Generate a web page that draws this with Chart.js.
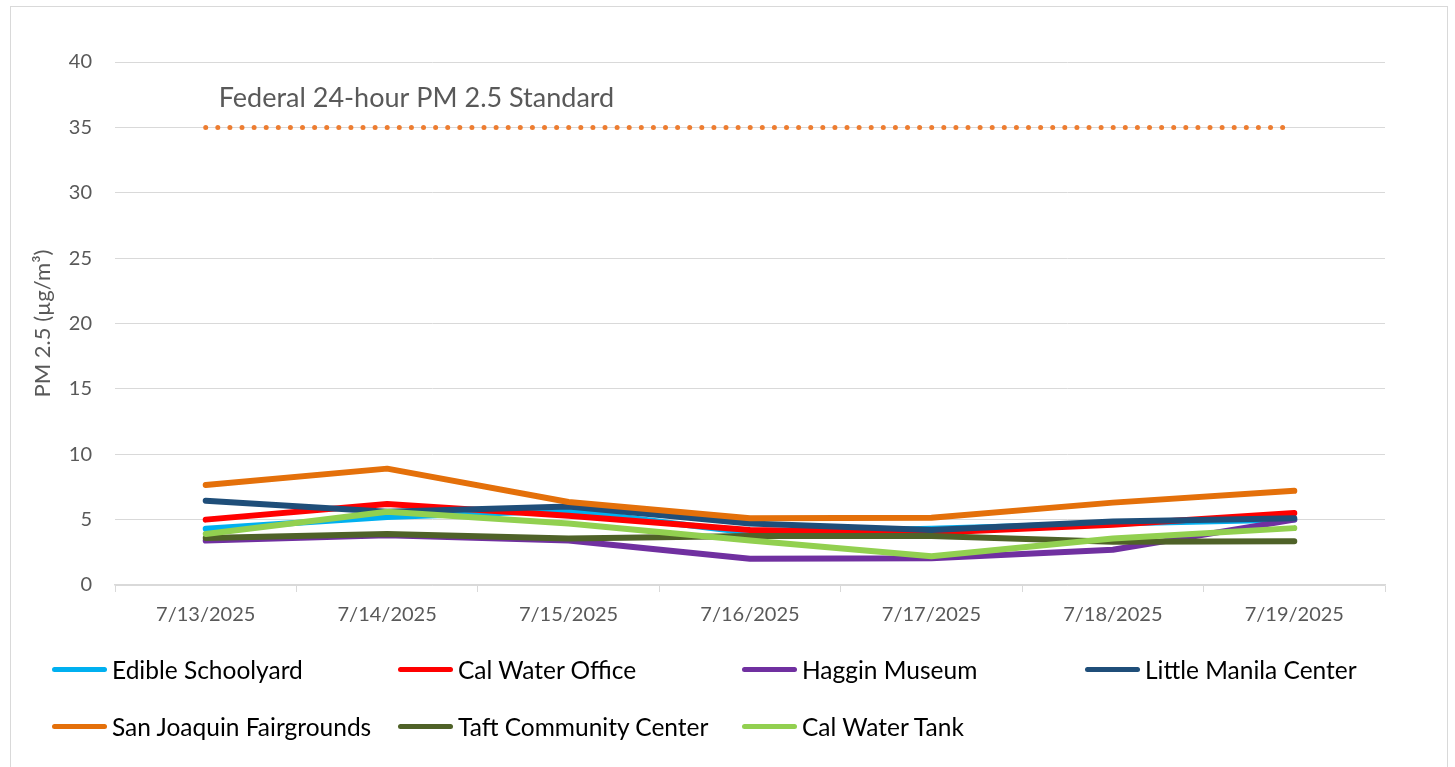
<!DOCTYPE html>
<html>
<head>
<meta charset="utf-8">
<script src="https://cdn.jsdelivr.net/npm/chart.js@4"></script>
<style>
  body { margin: 0; background: #fff; }
  #wrap { position: relative; width: 1455px; height: 767px; overflow: hidden; font-family: Lato, "Noto Sans", sans-serif; }
  #frame { position: absolute; left: 10px; top: 6px; width: 1436px; height: 800px; border: 1px solid #d9d9d9; }
  #myChart { position: absolute; left: 0; top: 0; }
  #legend { position: absolute; left: 52px; top: 657px; display: grid; grid-template-columns: 346px 344px 343px 340px; row-gap: 33px; }
  .item { display: flex; align-items: center; height: 24px; font-size: 24.5px; color: #000; white-space: nowrap; }
  .swatch { width: 55px; height: 5px; border-radius: 3px; margin-right: 5px; }
</style>
</head>
<body>
<div id="wrap">
  <div id="frame"></div>
  <canvas id="myChart" width="1455" height="767"></canvas>
  <div id="legend"></div>
</div>
<script>
const dates = ['7/13/2025', '7/14/2025', '7/15/2025', '7/16/2025', '7/17/2025', '7/18/2025', '7/19/2025'];
const yTicks = [0, 5, 10, 15, 20, 25, 30, 35, 40];

const edibleSchoolyard = [4.3, 5.2, 5.7, 4.0, 4.3, 4.7, 5.0];
const calWaterOffice = [5.0, 6.2, 5.3, 4.2, 4.0, 4.6, 5.5];
const hagginMuseum = [3.4, 3.8, 3.4, 2.0, 2.05, 2.7, 5.0];
const littleManila = [6.45, 5.6, 6.0, 4.7, 4.2, 4.85, 5.1];
const sanJoaquin = [7.65, 8.9, 6.35, 5.1, 5.15, 6.3, 7.2];
const taftCommunity = [3.6, 3.9, 3.55, 3.75, 3.75, 3.3, 3.35];
const calWaterTank = [3.9, 5.6, 4.7, 3.4, 2.2, 3.55, 4.35];
const federalStandard = [35, 35, 35, 35, 35, 35, 35];

const seriesNames = ['Edible Schoolyard', 'Cal Water Office', 'Haggin Museum', 'Little Manila Center',
  'San Joaquin Fairgrounds', 'Taft Community Center', 'Cal Water Tank'];
const seriesValues = [edibleSchoolyard, calWaterOffice, hagginMuseum, littleManila, sanJoaquin, taftCommunity, calWaterTank];
const seriesColors = ['#00B0F0', '#FF0000', '#7030A0', '#1F4E79', '#E4700A', '#4F6228', '#92D050'];

const datasets = seriesNames.map((name, i) => ({
  label: name,
  data: seriesValues[i],
  borderColor: seriesColors[i],
  backgroundColor: seriesColors[i],
  borderWidth: 6,
  borderCapStyle: 'round',
  borderJoinStyle: 'round',
  pointRadius: 0,
  tension: 0,
  order: 20 - i
}));

datasets.push({
  label: 'Federal 24-hour PM 2.5 Standard',
  data: federalStandard,
  borderColor: '#ED7D31',
  borderWidth: 5,
  borderDash: [0, 12.1],
  borderCapStyle: 'round',
  pointRadius: 0,
  order: 30
});

// label for the standard line, placed from the scales
const standardLabel = {
  id: 'standardLabel',
  afterDatasetsDraw(chart) {
    const { ctx, scales } = chart;
    const x = scales.x.getPixelForValue(0) + 13;
    const y = scales.y.getPixelForValue(35) - 29;
    ctx.save();
    ctx.font = '27px Lato, "Noto Sans", sans-serif';
    ctx.fillStyle = '#595959';
    ctx.textBaseline = 'middle';
    ctx.fillText('Federal 24-hour PM 2.5 Standard', x, y);
    ctx.restore();
  }
};

const ctx = document.getElementById('myChart');
const myChart = new Chart(ctx, {
  type: 'line',
  data: { labels: dates, datasets: datasets },
  plugins: [standardLabel],
  options: {
    responsive: false,
    animation: false,
    layout: { padding: { top: 62, right: 70, left: 0, bottom: 0 } },
    plugins: { legend: { display: false }, tooltip: { enabled: false } },
    scales: {
      x: {
        offset: true,
        grid: { offset: true, drawOnChartArea: false, drawTicks: true, tickLength: 7, color: '#d9d9d9' },
        border: { display: true, color: '#d9d9d9', width: 1.5 },
        ticks: { color: '#595959', font: { family: 'Lato', size: 20 }, padding: 11, maxRotation: 0 },
        afterFit(scale) { scale.height = 182; }
      },
      y: {
        min: 0,
        max: 40,
        afterBuildTicks(scale) { scale.ticks = yTicks.map(v => ({ value: v })); },
        grid: { color: '#d9d9d9', drawTicks: false },
        border: { display: false },
        ticks: { color: '#595959', font: { family: 'Lato', size: 20 }, padding: 23 },
        title: {
          display: true,
          text: 'PM 2.5 (µg/m³)',
          color: '#595959',
          font: { family: 'Lato', size: 22 },
          padding: { top: 30, bottom: 0 }
        },
        afterFit(scale) { scale.width = 115; }
      }
    }
  }
});

// legend in four fixed columns
const legend = document.getElementById('legend');
seriesNames.forEach((name, i) => {
  const item = document.createElement('div');
  item.className = 'item';
  item.innerHTML = '<span class="swatch" style="background:' + seriesColors[i] + '"></span>' + name;
  legend.appendChild(item);
});
</script>
</body>
</html>
